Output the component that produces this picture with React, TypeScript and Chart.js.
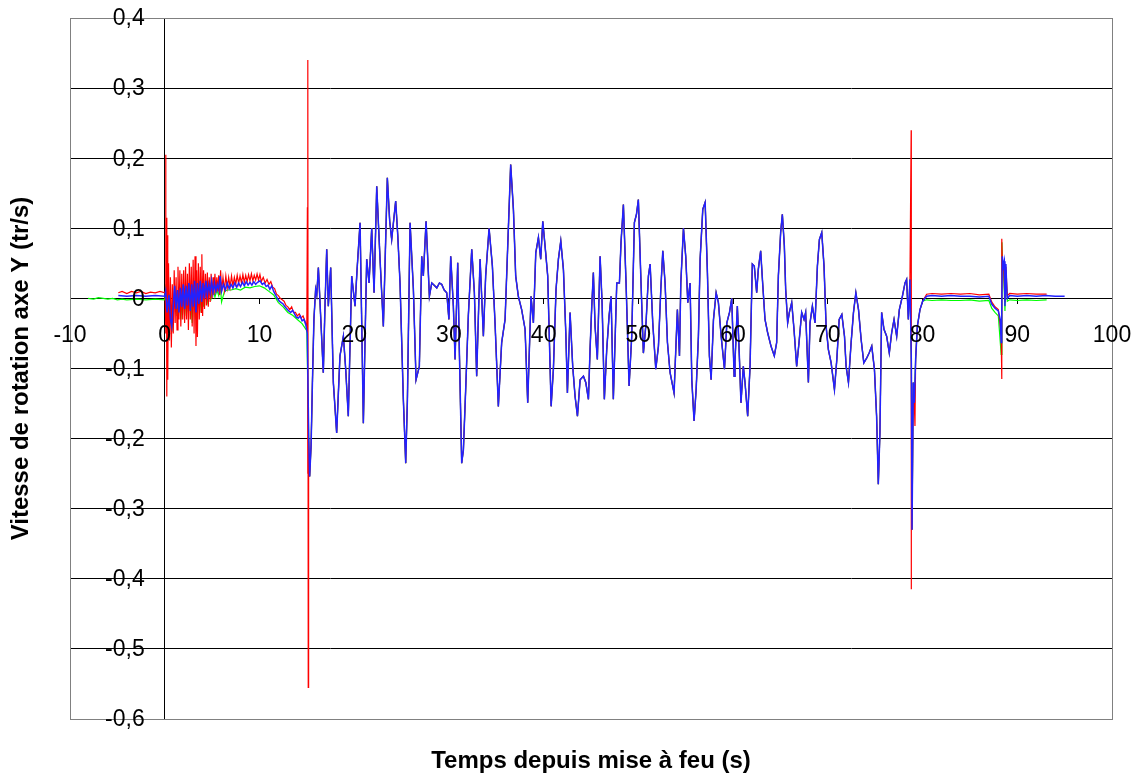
import React, { useEffect, useRef } from 'react';
import { Chart, registerables } from 'chart.js';

Chart.register(...registerables);

type P = [number, number];

const FONT = "'Liberation Sans', Arial, sans-serif";
const xTitle = 'Temps depuis mise à feu (s)';
const yTitle = 'Vitesse de rotation axe Y (tr/s)';
const xRange = [-10, 100];
const yRange = [-0.6, 0.4];

// Before launch
const greenPre: P[] = [[-8.1, 0.0], [-7.5, -0.001], [-7, 0.001], [-6.5, 0.0], [-6, -0.001], [-5.5, 0.0], [-5, -0.002], [-4.5, -0.001], [-4, -0.002], [-3, -0.001], [-2, -0.002], [-1, -0.001], [0, -0.002]];
const redPre: P[] = [[-4.9, 0.008], [-4.5, 0.01], [-4, 0.007], [-3.5, 0.01], [-3, 0.008], [-2.5, 0.01], [-2, 0.007], [-1.5, 0.009], [-1, 0.008], [-0.5, 0.01], [0, 0.008]];
const bluePre: P[] = [[-4.9, 0.004], [-4, 0.003], [-3, 0.004], [-2, 0.003], [-1, 0.004], [0, 0.003]];

// 0 - 15 s (firing noise)
const blueNoise: P[] = [[0.1, 0.01], [0.25, -0.02], [0.45, 0.005], [0.6, -0.03], [0.74, -0.04], [0.9, -0.01], [1.05, 0.018], [1.2, -0.015], [1.35, 0.012], [1.5, -0.02], [1.65, 0.015], [1.8, -0.012], [1.95, 0.02], [2.1, -0.015], [2.25, 0.018], [2.4, -0.01], [2.55, 0.022], [2.7, -0.018], [2.85, 0.02], [3.0, -0.012], [3.15, 0.025], [3.3, -0.02], [3.45, 0.022], [3.6, -0.008], [3.75, 0.025], [3.9, -0.005], [4.05, 0.022], [4.2, 0.0], [4.35, 0.025], [4.5, 0.005], [4.65, 0.02], [4.8, 0.008], [4.95, 0.025], [5.1, 0.008], [5.25, 0.022], [5.4, 0.01], [5.55, 0.02], [5.7, 0.012], [5.84, 0.032], [6.0, 0.01], [6.2, 0.02], [6.4, 0.012], [6.6, 0.022], [6.8, 0.014], [7.0, 0.02], [7.2, 0.015], [7.4, 0.022], [7.6, 0.016], [7.8, 0.022], [8.0, 0.017], [8.2, 0.023], [8.4, 0.018], [8.6, 0.024], [8.8, 0.019], [9.0, 0.023], [9.2, 0.019], [9.4, 0.024], [9.6, 0.02], [9.8, 0.023], [10.06, 0.025], [10.3, 0.02], [10.5, 0.022], [10.7, 0.017], [10.9, 0.019], [11.1, 0.013], [11.3, 0.018], [11.5, 0.01], [11.7, 0.005], [11.9, 0.0], [12.1, -0.004], [12.3, -0.006], [12.5, -0.008], [12.7, -0.012], [12.9, -0.015], [13.1, -0.018], [13.3, -0.02], [13.5, -0.017], [13.7, -0.022], [13.9, -0.027], [14.1, -0.028], [14.3, -0.025], [14.5, -0.032], [14.7, -0.03], [14.9, -0.038], [15.05, -0.05]];
const redNoise: P[] = [[0.05, 0.01], [0.1, 0.205], [0.13, -0.05], [0.17, 0.115], [0.22, -0.14], [0.27, 0.09], [0.32, -0.116], [0.4, 0.05], [0.5, -0.06], [0.6, 0.03], [0.7, -0.07], [0.8, 0.02], [0.9, -0.05], [1.0, 0.04], [1.1, -0.035], [1.2, 0.03], [1.3, -0.045], [1.4, 0.045], [1.5, -0.03], [1.6, 0.04], [1.7, -0.04], [1.8, 0.035], [1.9, -0.03], [2.0, 0.04], [2.1, -0.035], [2.2, 0.045], [2.3, -0.03], [2.4, 0.035], [2.5, -0.045], [2.6, 0.05], [2.7, -0.03], [2.8, 0.045], [2.9, -0.04], [3.0, 0.055], [3.1, -0.05], [3.2, 0.06], [3.3, -0.068], [3.37, 0.04], [3.45, -0.055], [3.55, 0.05], [3.65, -0.03], [3.75, 0.045], [3.85, -0.02], [3.92, 0.063], [4.0, -0.025], [4.1, 0.04], [4.2, -0.015], [4.3, 0.035], [4.4, -0.01], [4.5, 0.037], [4.6, -0.012], [4.7, 0.03], [4.8, -0.005], [4.9, 0.035], [5.0, 0.0], [5.1, 0.03], [5.2, 0.005], [5.3, 0.035], [5.4, 0.008], [5.5, 0.03], [5.6, 0.01], [5.7, 0.033], [5.8, 0.005], [5.9, 0.04], [6.0, 0.01], [6.15, 0.03], [6.3, 0.012], [6.45, 0.032], [6.6, 0.015], [6.75, 0.03], [6.9, 0.016], [7.05, 0.032], [7.2, 0.018], [7.35, 0.03], [7.5, 0.02], [7.65, 0.033], [7.8, 0.021], [7.95, 0.032], [8.1, 0.022], [8.25, 0.034], [8.4, 0.023], [8.55, 0.033], [8.7, 0.024], [8.85, 0.034], [9.0, 0.025], [9.15, 0.035], [9.3, 0.025], [9.45, 0.033], [9.6, 0.026], [9.75, 0.035], [9.9, 0.026], [10.05, 0.034], [10.2, 0.024], [10.4, 0.03], [10.6, 0.022], [10.8, 0.027], [11.0, 0.02], [11.2, 0.024], [11.4, 0.016], [11.6, 0.014], [11.8, 0.006], [12.0, 0.004], [12.2, 0.0], [12.4, -0.002], [12.6, -0.004], [12.8, -0.01], [13.0, -0.012], [13.2, -0.016], [13.4, -0.012], [13.6, -0.02], [13.8, -0.02], [14.0, -0.025], [14.2, -0.022], [14.4, -0.028], [14.6, -0.025], [14.8, -0.032], [15.0, -0.04]];
const greenNoise: P[] = [[0.15, 0.02], [0.3, -0.025], [0.5, 0.0], [0.74, -0.048], [0.9, -0.02], [1.1, 0.01], [1.3, -0.025], [1.5, 0.005], [1.7, -0.03], [1.9, 0.01], [2.1, -0.025], [2.3, 0.01], [2.5, -0.02], [2.7, 0.012], [2.9, -0.035], [3.1, 0.015], [3.3, -0.03], [3.5, 0.012], [3.7, -0.02], [3.9, 0.015], [4.1, -0.012], [4.3, 0.015], [4.5, -0.005], [4.7, 0.012], [4.9, 0.0], [5.1, 0.014], [5.3, 0.002], [5.5, 0.012], [5.7, 0.004], [5.84, 0.022], [6.0, -0.005], [6.3, 0.01], [6.6, 0.012], [7.0, 0.012], [7.5, 0.014], [8.0, 0.012], [8.5, 0.016], [9.0, 0.015], [9.5, 0.017], [10.0, 0.018], [10.5, 0.015], [11.0, 0.01], [11.5, 0.005], [12.0, -0.006], [12.5, -0.012], [13.0, -0.02], [13.5, -0.024], [14.0, -0.03], [14.5, -0.036], [15.0, -0.046]];

// Red-only spikes
const redSpikes: P[] = [[15.06, 0.13], [15.09, -0.25], [15.12, 0.34], [15.15, -0.555], [15.18, -0.2], [78.8, 0.24], [78.81, -0.415], [79.2, -0.182]];

// Flight oscillations (the three traces coincide)
const oscA: P[] = [[15.2, -0.2], [15.3, -0.254], [15.45, -0.21], [15.6, -0.115], [15.75, -0.03], [15.93, 0.013], [16.05, 0.005], [16.22, 0.044], [16.46, -0.025], [16.74, -0.106], [16.9, -0.02], [17.1, 0.07], [17.27, -0.011], [17.52, 0.044], [17.8, -0.12], [18.15, -0.192], [18.5, -0.082], [18.86, -0.054], [19.1, -0.1], [19.38, -0.168], [19.74, 0.032], [20.09, -0.011], [20.3, 0.04], [20.62, 0.108], [20.97, -0.178], [21.32, 0.056], [21.57, 0.022], [21.85, 0.1], [22.1, 0.008], [22.38, 0.16], [22.73, 0.056], [23.08, -0.04], [23.5, 0.172], [23.75, 0.11], [23.96, 0.084], [24.38, 0.139], [24.6, 0.09], [24.84, 0.022], [25.19, -0.144], [25.44, -0.235], [25.62, -0.144], [25.9, 0.108], [26.25, 0.013], [26.53, -0.116], [26.88, -0.097], [27.13, 0.06], [27.3, 0.032], [27.59, 0.11], [27.94, 0.003], [28.19, 0.022], [28.5, 0.018], [28.72, 0.015], [29.0, 0.022], [29.24, 0.02], [29.5, 0.012], [29.77, 0.008], [30.0, -0.03]];
const oscB: P[] = [[30.19, 0.06], [30.47, -0.011], [30.65, -0.087], [30.93, 0.051], [31.1, -0.073], [31.35, -0.235], [31.53, -0.216], [31.77, -0.13], [32.05, -0.025], [32.41, 0.07], [32.69, 0.008], [32.93, -0.111], [33.29, 0.056], [33.64, -0.054], [33.88, 0.032], [34.24, 0.1], [34.59, 0.046], [34.87, -0.035], [35.22, -0.154], [35.57, -0.063], [35.93, -0.03], [36.21, 0.075], [36.52, 0.191], [36.81, 0.127], [37.05, 0.032], [37.33, 0.003], [37.68, -0.016], [38.04, -0.044], [38.32, -0.149], [38.67, 0.003], [38.92, -0.035], [39.17, 0.065], [39.45, 0.087], [39.69, 0.056], [39.91, 0.11], [40.15, 0.075], [40.43, 0.032], [40.79, -0.154], [41.03, -0.101], [41.31, 0.013], [41.56, 0.056], [41.81, 0.082], [42.09, 0.041], [42.34, -0.049], [42.51, -0.135], [42.79, -0.02], [43.07, -0.097], [43.32, -0.14], [43.57, -0.168], [43.85, -0.116], [44.2, -0.111], [44.45, -0.12], [44.73, -0.144], [44.9, -0.073]];
const oscC: P[] = [[45.08, -0.011], [45.25, 0.037], [45.43, -0.04], [45.67, -0.087], [45.96, 0.06], [46.17, -0.006], [46.41, -0.144], [46.66, -0.073], [46.91, -0.025], [47.12, 0.003], [47.36, -0.144], [47.72, 0.022], [48.0, 0.022], [48.17, 0.08], [48.42, 0.134], [48.7, 0.022], [49.02, -0.125], [49.3, -0.054], [49.58, 0.108], [49.8, 0.12], [50.0, 0.141], [50.28, 0.022], [50.53, -0.078], [50.81, -0.035], [51.06, 0.032], [51.24, 0.049], [51.52, -0.035], [51.84, -0.101], [52.12, -0.068], [52.37, 0.013], [52.58, 0.068], [52.82, 0.022], [53.07, -0.063], [53.35, -0.106], [53.77, -0.135], [53.98, -0.063], [54.12, -0.016], [54.34, -0.082], [54.48, 0.022], [54.76, 0.1], [55.0, 0.06], [55.22, -0.006], [55.46, 0.022], [55.64, -0.116], [55.88, -0.175], [56.1, -0.13], [56.34, -0.054], [56.52, 0.056], [56.8, 0.127], [57.05, 0.137], [57.29, 0.037], [57.5, -0.082], [57.68, -0.116], [57.93, -0.03], [58.21, 0.008], [58.45, -0.006], [58.74, -0.054], [59.09, -0.101], [59.34, -0.035], [59.62, -0.02], [59.86, 0.0], [60.11, -0.111], [60.2, -0.09]];
const oscD: P[] = [[60.45, -0.011], [60.66, -0.082], [60.83, -0.149], [61.08, -0.097], [61.26, -0.12], [61.54, -0.168], [61.79, -0.097], [62.03, 0.049], [62.24, 0.046], [62.49, 0.008], [62.66, 0.041], [62.91, 0.068], [63.12, 0.022], [63.37, -0.03], [63.65, -0.049], [64.0, -0.068], [64.35, -0.082], [64.6, -0.063], [64.78, 0.032], [65.02, 0.094], [65.2, 0.12], [65.41, 0.075], [65.55, 0.013], [65.76, -0.035], [65.94, -0.02], [66.19, -0.006], [66.43, -0.044], [66.71, -0.097], [66.96, -0.063], [67.24, -0.02], [67.49, -0.03], [67.66, -0.02], [67.95, -0.12], [68.12, -0.035], [68.37, -0.011], [68.65, -0.035], [68.9, 0.046], [69.11, 0.084], [69.36, 0.094], [69.6, 0.046], [69.82, -0.04], [70.06, -0.073], [70.35, -0.092], [70.7, -0.13], [70.95, -0.087], [71.2, -0.03], [71.48, -0.023], [71.76, -0.054], [71.93, -0.097], [72.18, -0.12], [72.46, -0.063], [72.71, -0.02], [72.96, 0.008], [73.24, -0.016], [73.52, -0.059], [73.8, -0.092], [74.11, -0.085], [74.36, -0.078], [74.64, -0.068], [74.92, -0.101]];
const oscE: P[] = [[75.15, -0.168], [75.33, -0.265], [75.5, -0.192], [75.68, -0.02], [75.93, -0.044], [76.21, -0.054], [76.49, -0.078], [76.74, -0.049], [76.99, -0.03], [77.27, -0.054], [77.55, -0.016], [77.87, 0.003], [78.15, 0.022], [78.32, 0.027], [78.5, -0.03], [78.67, 0.027], [78.82, -0.092], [78.89, -0.33], [79.02, -0.12], [79.13, -0.149], [79.27, -0.087], [79.45, -0.04], [79.73, -0.016], [80.01, -0.004]];

// After the flight
const bluePost: P[] = [[80.43, 0.003], [81, 0.004], [82, 0.003], [83, 0.004], [84, 0.003], [85, 0.003], [86, 0.002], [87, 0.003], [87.3, -0.008], [87.65, -0.014], [88.0, -0.018], [88.2, -0.03], [88.3, -0.063], [88.36, -0.02], [88.42, 0.06], [88.53, 0.046], [88.63, 0.053], [88.7, -0.011], [88.8, 0.049], [88.9, 0.01], [88.95, 0.0], [89.2, 0.004], [90, 0.003], [91, 0.004], [92, 0.003], [93, 0.004], [94, 0.003], [95, 0.003]];
const redPost: P[] = [[80.43, 0.006], [81, 0.007], [82, 0.006], [83, 0.007], [84, 0.006], [85, 0.007], [86, 0.005], [87, 0.006], [87.3, -0.005], [87.65, -0.012], [88.0, -0.016], [88.3, -0.05], [88.35, -0.115], [88.38, 0.085], [88.45, 0.04], [88.55, 0.05], [88.7, -0.005], [88.8, 0.045], [88.95, 0.004], [89.2, 0.007], [90, 0.006], [91, 0.007], [92, 0.006], [93.1, 0.006]];
const greenPost: P[] = [[80.43, -0.002], [81, -0.003], [82, -0.002], [83, -0.003], [84, -0.003], [85, -0.002], [86, -0.004], [87, -0.003], [87.3, -0.014], [87.65, -0.02], [88.0, -0.025], [88.3, -0.08], [88.38, 0.08], [88.45, 0.045], [88.55, 0.04], [88.7, -0.018], [88.8, 0.04], [88.95, -0.004], [89.2, -0.002], [90, -0.003], [91, -0.002], [92, -0.003], [93.1, -0.002]];

const toPoints = (...segs: P[][]) =>
  segs
    .flat()
    .slice()
    .sort((a, b) => a[0] - b[0])
    .map(([x, y]) => ({ x, y }));

const fmtY = (v: number) => (Math.abs(v) < 1e-9 ? '0' : v.toFixed(1).replace('.', ','));
const fmtX = (v: number) => String(Math.round(v));

export default function App() {
  const ref = useRef<HTMLCanvasElement>(null);
  useEffect(() => {
    if (!ref.current) return;
    const osc = [oscA, oscB, oscC, oscD, oscE];
    const framePlugin = {
      id: 'frameAndTitles',
      beforeDatasetsDraw(chart: any) {
        const { ctx, chartArea: a } = chart;
        ctx.save();
        ctx.strokeStyle = '#808080';
        ctx.lineWidth = 1;
        ctx.strokeRect(Math.round(a.left) + 0.5, Math.round(a.top) + 0.5, Math.round(a.right - a.left), Math.round(a.bottom - a.top));
        ctx.restore();
      },
      afterDraw(chart: any) {
        const { ctx, chartArea: a, scales } = chart;
        ctx.save();
        ctx.fillStyle = '#000';
        const axisX = scales.x.getPixelForValue(0);
        const axisY = scales.y.getPixelForValue(0);
        ctx.font = `23px ${FONT}`;
        ctx.textBaseline = 'middle';
        // y tick labels beside the y axis (which crosses at x = 0)
        ctx.textAlign = 'right';
        scales.y.ticks.forEach((t: any) => {
          ctx.fillText(fmtY(t.value), axisX - 20, scales.y.getPixelForValue(t.value) + 1);
        });
        // x tick labels under the x axis (which crosses at y = 0)
        ctx.textAlign = 'center';
        scales.x.ticks.forEach((t: any) => {
          ctx.fillText(fmtX(t.value), scales.x.getPixelForValue(t.value), axisY + 37);
        });
        ctx.font = `bold 24px ${FONT}`;
        ctx.fillText(xTitle, (a.left + a.right) / 2, 761);
        ctx.translate(21, (a.top + a.bottom) / 2);
        ctx.rotate(-Math.PI / 2);
        ctx.fillText(yTitle, 0, 0);
        ctx.restore();
      },
    };
    const line = { pointRadius: 0, tension: 0, fill: false };
    const chart = new Chart(ref.current, {
      type: 'line',
      data: {
        datasets: [
          { label: 'Z', data: toPoints(bluePre, blueNoise, ...osc, bluePost), borderColor: '#2222ff', borderWidth: 1.5, ...line },
          { label: 'X', data: toPoints(redPre, redNoise, redSpikes, ...osc, redPost), borderColor: '#ff0000', borderWidth: 1.2, ...line },
          { label: 'Y', data: toPoints(greenPre, greenNoise, ...osc, greenPost), borderColor: '#00ff00', borderWidth: 1.2, ...line },
        ],
      },
      options: {
        animation: false,
        responsive: false,
        layout: { padding: { left: 70, top: 18, right: 32, bottom: 59 } },
        plugins: { legend: { display: false }, tooltip: { enabled: false } },
        scales: {
          x: {
            type: 'linear',
            min: xRange[0],
            max: xRange[1],
            position: { y: 0 } as any,
            ticks: { stepSize: 10, display: false },
            grid: { drawOnChartArea: false, drawTicks: true, tickLength: 5, tickColor: '#000' },
            border: { display: true, color: '#000', width: 1 },
          },
          y: {
            type: 'linear',
            min: yRange[0],
            max: yRange[1],
            position: { x: 0 } as any,
            ticks: { stepSize: 0.1, display: false },
            grid: {
              color: (c: any) => (c.tick && (Math.abs(c.tick.value - 0.4) < 1e-6 || Math.abs(c.tick.value + 0.6) < 1e-6) ? '#808080' : '#000'),
              lineWidth: 1,
              tickLength: 8,
              tickColor: '#000',
            },
            border: { display: true, color: '#000', width: 1 },
          },
        },
      },
      plugins: [framePlugin],
    });
    return () => chart.destroy();
  }, []);
  return (
    <canvas
      ref={ref}
      width={1144}
      height={778}
      style={{ position: 'fixed', left: 0, top: 0, width: 1144, height: 778 }}
    />
  );
}
